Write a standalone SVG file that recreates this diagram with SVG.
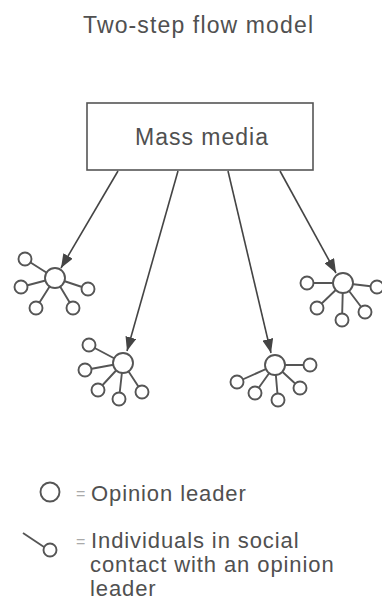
<svg xmlns="http://www.w3.org/2000/svg" width="382" height="609" viewBox="0 0 382 609">
<style>
text{font-family:"Liberation Sans",Arial,sans-serif;fill:#505050}
.t{font-size:23px}
.l{font-size:22px;letter-spacing:0.9px}
.eq{font-size:16px;fill:#aaa}
.box{fill:#fff;stroke:#555;stroke-width:1.6}
.sp{stroke:#555;stroke-width:1.9;fill:none}
.c{fill:#fff;stroke:#555;stroke-width:1.9}
.ar{stroke:#444;stroke-width:1.6;fill:none;marker-end:url(#ah)}
</style>
<defs>
<marker id="ah" markerUnits="userSpaceOnUse" markerWidth="15" markerHeight="11" refX="14" refY="5.5" orient="auto" viewBox="0 0 15 11">
<path d="M0,0 L14,5.5 L0,11 z" fill="#444"/>
</marker>
</defs>
<text id="title" class="t" x="83" y="33" textLength="230" lengthAdjust="spacing">Two-step flow model</text>
<g id="mass-media">
<rect class="box" x="87" y="103" width="226" height="67"/>
<text class="t" x="135" y="145" textLength="133" lengthAdjust="spacing">Mass media</text>
</g>
<g id="connectors">
<line class="ar" x1="118" y1="171" x2="61" y2="268"/>
<line class="ar" x1="178" y1="171" x2="127" y2="351"/>
<line class="ar" x1="228" y1="171" x2="271" y2="353"/>
<line class="ar" x1="280" y1="171" x2="336" y2="273"/>
</g>
<g id="cluster1">
<path class="sp" d="M55,278L25,259M55,278L21,287M55,278L88,289M55,278L36,308M55,278L73,308"/>
<circle class="c" cx="25" cy="259" r="6.5"/>
<circle class="c" cx="21" cy="287" r="6.5"/>
<circle class="c" cx="88" cy="289" r="6.5"/>
<circle class="c" cx="36" cy="308" r="6.5"/>
<circle class="c" cx="73" cy="308" r="6.5"/>
<circle class="c" cx="55" cy="278" r="10"/>
</g>
<g id="cluster2">
<path class="sp" d="M123,363L89,345M123,363L85,370M123,363L98,390M123,363L119,399M123,363L142,392"/>
<circle class="c" cx="89" cy="345" r="6.5"/>
<circle class="c" cx="85" cy="370" r="6.5"/>
<circle class="c" cx="98" cy="390" r="6.5"/>
<circle class="c" cx="119" cy="399" r="6.5"/>
<circle class="c" cx="142" cy="392" r="6.5"/>
<circle class="c" cx="123" cy="363" r="10"/>
</g>
<g id="cluster3">
<path class="sp" d="M275,365L310,365M275,365L237,382M275,365L255,393M275,365L278,400M275,365L300,388"/>
<circle class="c" cx="310" cy="365" r="6.5"/>
<circle class="c" cx="237" cy="382" r="6.5"/>
<circle class="c" cx="255" cy="393" r="6.5"/>
<circle class="c" cx="278" cy="400" r="6.5"/>
<circle class="c" cx="300" cy="388" r="6.5"/>
<circle class="c" cx="275" cy="365" r="10"/>
</g>
<g id="cluster4">
<path class="sp" d="M343,283L307,283M343,283L377,287M343,283L317,308M343,283L342,320M343,283L365,312"/>
<circle class="c" cx="307" cy="283" r="6.5"/>
<circle class="c" cx="377" cy="287" r="6.5"/>
<circle class="c" cx="317" cy="308" r="6.5"/>
<circle class="c" cx="342" cy="320" r="6.5"/>
<circle class="c" cx="365" cy="312" r="6.5"/>
<circle class="c" cx="343" cy="283" r="10"/>
</g>
<g id="legend-leader">
<circle class="c" cx="50" cy="492" r="9.5"/>
<text class="eq" x="76" y="499">=</text>
<text class="l" x="91" y="501">Opinion leader</text>
</g>
<g id="legend-individuals">
<line class="sp" x1="23" y1="533" x2="44" y2="547"/>
<circle class="c" cx="50" cy="550" r="6.5"/>
<text class="eq" x="76" y="547">=</text>
<text class="l" x="91" y="548">Individuals in social</text>
<text class="l" x="90" y="572">contact with an opinion</text>
<text class="l" x="90" y="596">leader</text>
</g>
</svg>
